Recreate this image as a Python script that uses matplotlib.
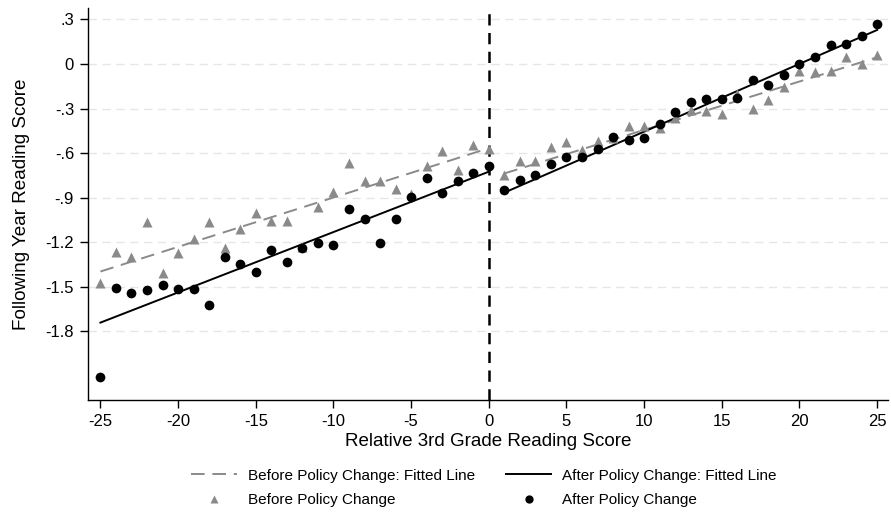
import matplotlib
matplotlib.use('Agg')
import matplotlib.pyplot as plt
import numpy as np

plt.rcParams['font.family'] = ['Liberation Sans', 'DejaVu Sans']

# relative 3rd grade score (bins)
scores = list(range(-25, 26))

# mean following-year reading score, before the policy change (triangles)
before = [-1.476, -1.263, -1.301, -1.061, -1.404, -1.274, -1.176, -1.061, -1.240, -1.113,
          -1.005, -1.054, -1.059, -1.230, -0.965, -0.864, -0.664, -0.790, -0.790, -0.839,
          -0.875, -0.686, -0.583, -0.713, -0.543, -0.574,
          -0.745, -0.650, -0.650, -0.562, -0.524, -0.581, -0.517, -0.500, -0.417, -0.417,
          -0.428, -0.366, -0.310, -0.318, -0.336, -0.200, -0.303, -0.242, -0.152, -0.045,
          -0.052, -0.045, 0.045, 0.000, 0.060]

# after the policy change (dots)
after = [-2.104, -1.507, -1.543, -1.523, -1.485, -1.516, -1.516, -1.622, -1.301, -1.346,
         -1.400, -1.252, -1.335, -1.240, -1.203, -1.220, -0.978, -1.045, -1.207, -1.045,
         -0.893, -0.767, -0.870, -0.785, -0.731, -0.686,
         -0.848, -0.781, -0.745, -0.673, -0.624, -0.628, -0.574, -0.493, -0.514, -0.498,
         -0.402, -0.325, -0.254, -0.236, -0.238, -0.231, -0.108, -0.139, -0.076, 0.000,
         0.049, 0.126, 0.137, 0.190, 0.269]

# fitted line end points, each side of the cutoff
fit_x_left = [-25, 0]
fit_x_right = [1, 25]
fit_before_left = [-1.397, -0.567]
fit_before_right = [-0.737, 0.045]
fit_after_left = [-1.741, -0.725]
fit_after_right = [-0.866, 0.229]

yticks = [0.3, 0, -0.3, -0.6, -0.9, -1.2, -1.5, -1.8]
ytick_labels = ['.3', '0', '-.3', '-.6', '-.9', '-1.2', '-1.5', '-1.8']
xticks = list(range(-25, 26, 5))

gray = '#8a8a8a'

fig = plt.figure(figsize=(8.91, 5.13), dpi=100)
ax = fig.add_axes([88/891, 1 - 400/513, 800/891, 392/513])

for y in yticks:
    ax.axhline(y, color='#e6e6e6', lw=1.0, ls=(0, (6, 4)), zorder=0)

ax.axvline(0, color='black', lw=1.8, ls=(0, (4.5, 3)), zorder=1)

h1, = ax.plot(fit_x_left, fit_before_left, color=gray, lw=1.4, ls=(0, (7, 4)), zorder=2)
ax.plot(fit_x_right, fit_before_right, color=gray, lw=1.4, ls=(0, (7, 4)), zorder=2)
h2, = ax.plot(fit_x_left, fit_after_left, color='black', lw=1.4, zorder=2)
ax.plot(fit_x_right, fit_after_right, color='black', lw=1.4, zorder=2)

h3, = ax.plot(scores, before, ls='none', marker='^', ms=7.5, color=gray, mec='none', zorder=3)
h4, = ax.plot(scores, after, ls='none', marker='o', ms=7, color='black', mec='none', zorder=4)

ax.set_xlim(-25.8, 25.7)
ax.set_ylim(-2.262, 0.377)
ax.set_xticks(xticks)
ax.set_xticklabels([str(t) for t in xticks])
ax.set_yticks(yticks)
ax.set_yticklabels(ytick_labels)
ax.tick_params(axis='both', direction='out', length=6, width=1, labelsize=12, pad=4)

for s in ['top', 'right']:
    ax.spines[s].set_visible(False)
for s in ['left', 'bottom']:
    ax.spines[s].set_linewidth(1)

ax.set_xlabel('Relative 3rd Grade Reading Score', fontsize=13.5, labelpad=3)
ax.set_ylabel('Following Year Reading Score', fontsize=13.6, labelpad=11)

fig.legend([h1, h3, h2, h4],
           ['Before Policy Change: Fitted Line', 'Before Policy Change',
            'After Policy Change: Fitted Line', 'After Policy Change'],
           ncol=2, frameon=False, loc='center', bbox_to_anchor=(484/891, 1 - 488/513),
           fontsize=11, handlelength=3.0, handletextpad=0.7, columnspacing=2.0,
           labelspacing=0.7, markerscale=0.85)

plt.savefig('out.png', dpi=100)
